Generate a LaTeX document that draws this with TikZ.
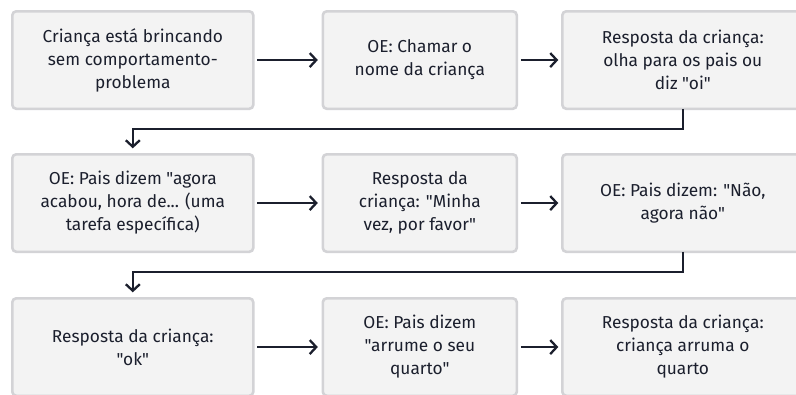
\documentclass[tikz,border=0pt]{standalone}
\usepackage{fontspec}
\setmainfont{Fira Sans}[Ligatures=TeXOff]
\usetikzlibrary{arrows.meta,positioning}

\definecolor{ink}{HTML}{1B1F2D}
\definecolor{boxfill}{HTML}{F3F3F3}
\definecolor{boxline}{HTML}{D3D3D6}

\begin{document}
\begin{tikzpicture}[x=1pt,y=1pt,
      font=\fontsize{17.3}{23}\selectfont,
      box/.style={draw=boxline,fill=boxfill,line width=2.6pt,rounded corners=4pt,
                  align=center,minimum height=97.5pt,inner sep=0pt,outer sep=0pt,
                  text=ink},
      wide/.style={box,minimum width=241pt},
      narrow/.style={box,minimum width=194pt},
      arr/.style={-{Straight Barb[length=6.5pt,width=14pt,line width=2.3pt]},
                  line width=2.3pt,draw=ink,line join=miter}]
    \useasboundingbox (0,0) rectangle (796,-394);
    \clip (0,0) rectangle (796,-394);
    % first row
    \node[wide,anchor=north west] (play) at (12.3,-11.3)
         {Criança está brincando\\sem comportamento-\\problema};
    \node[narrow,right=69.5pt of play] (name) {OE: Chamar o\\nome da criança};
    \node[wide,right=45.5pt of name] (look) {Resposta da criança:\\olha para os pais ou\\diz "oi"};
    % second row
    \node[wide,below=45.5pt of play] (over) {OE: Pais dizem "agora\\acabou, hora de... (uma\\tarefa específica)};
    \node[narrow,right=69.5pt of over] (turn) {Resposta da\\criança: "Minha\\vez, por favor"};
    \node[wide,right=45.5pt of turn] (no) {OE: Pais dizem: "Não,\\agora não"};
    % third row
    \node[wide,below=46.5pt of over] (ok) {Resposta da criança:\\"ok"};
    \node[narrow,right=69.5pt of ok] (tidy) {OE: Pais dizem\\"arrume o seu\\quarto"};
    \node[wide,right=45.5pt of tidy] (done) {Resposta da criança:\\criança arruma o\\quarto};
    % connectors
    \draw[arr,shorten <=4pt,shorten >=5pt] (play) -- (name);
    \draw[arr,shorten <=4pt,shorten >=4pt] (name) -- (look);
    \draw[arr,shorten >=6pt] (look.south) -- ++(0,-20) -| (over.north);
    \draw[arr,shorten <=4pt,shorten >=5pt] (over) -- (turn);
    \draw[arr,shorten <=4pt,shorten >=4pt] (turn) -- (no);
    \draw[arr,shorten >=6pt] (no.south) -- ++(0,-20) -| (ok.north);
    \draw[arr,shorten <=4pt,shorten >=5pt] (ok) -- (tidy);
    \draw[arr,shorten <=4pt,shorten >=4pt] (tidy) -- (done);
  \end{tikzpicture}
\end{document}
